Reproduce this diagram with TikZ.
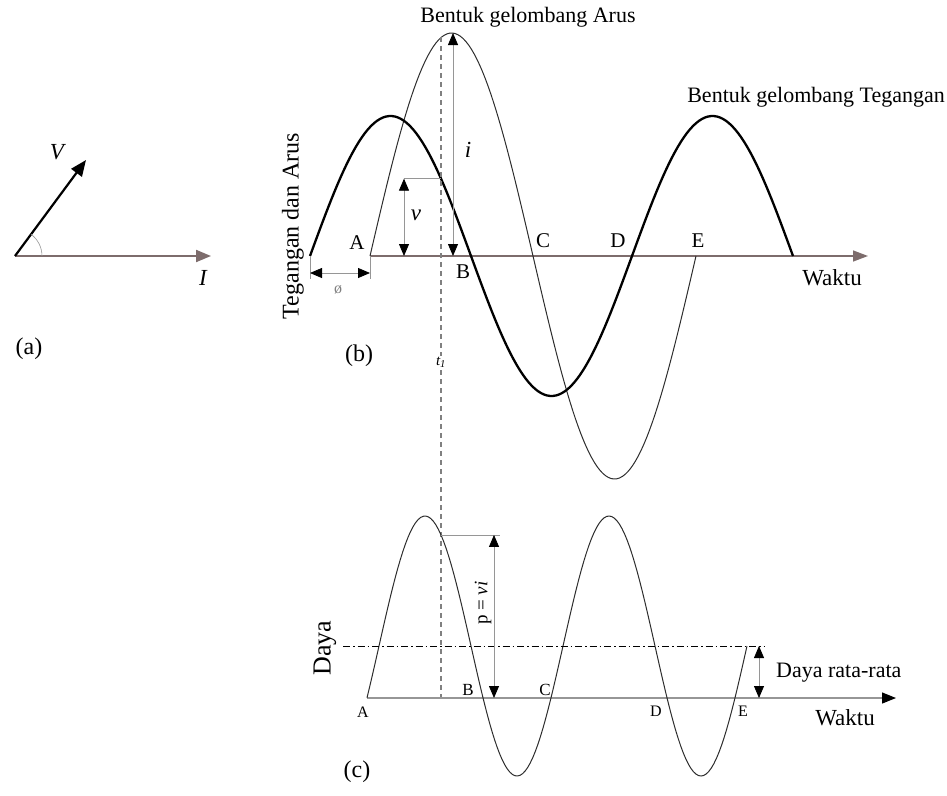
\documentclass[tikz,border=0pt]{standalone}
\usepackage{fontspec}
\setmainfont{Liberation Serif}
\usetikzlibrary{arrows.meta}
\definecolor{axcol}{RGB}{125,108,108}
\definecolor{thincol}{RGB}{150,150,150}
\definecolor{curvecol}{RGB}{45,45,45}
\begin{document}
\begin{tikzpicture}[x=1pt,y=-1pt,
  lbl/.style={font=\fontsize{22}{26}\selectfont, inner sep=0pt},
  mid/.style={font=\fontsize{21}{24}\selectfont, inner sep=0pt},
  sml/.style={font=\fontsize{16}{18}\selectfont, inner sep=0pt},
  dimarrow/.style={draw=thincol, line width=0.8pt, {Triangle[length=12pt,width=10pt,color=black]}-{Triangle[length=12pt,width=10pt,color=black]}},
  thinline/.style={draw=thincol, line width=0.8pt},
  volt/.style={draw=black, line width=2.3pt},
  curr/.style={draw=curvecol, line width=1pt},
  tline/.style={draw=gray, line width=1.1pt, dash pattern=on 5pt off 4pt},
  avgline/.style={draw=black, line width=0.8pt, dash pattern=on 7pt off 3pt on 1.5pt off 3pt}]
\useasboundingbox (0,0) rectangle (947,795);

% ---------- (a) phasor ----------
\coordinate (O) at (15,256);
\coordinate (Vt) at (86,160);
\coordinate (It) at (211,256);
\draw[draw=axcol, line width=2pt, -{Triangle[length=15pt,width=12pt,color=axcol]}] (O) -- (It);
\draw[line width=2.2pt, -{Triangle[length=16pt,width=13pt]}] (O) -- (Vt);
\draw[thincol, line width=0.6pt] (42,256) arc[start angle=0, end angle=-53.5, radius=27];
\node[lbl, font=\fontsize{23}{26}\selectfont\itshape] (Vl) at (57,152) {V};
\node[lbl, font=\fontsize{23}{26}\selectfont\itshape] (Il) at (203,278) {I};
\node[lbl, font=\fontsize{24}{28}\selectfont] (la) at (29,349) {(a)};

% ---------- (b) voltage and current ----------
\coordinate (bA) at (370,256);
\coordinate (bEnd) at (868,256);
\draw[draw=axcol, line width=1.4pt, -{Triangle[length=15pt,width=11pt,color=axcol]}] (bA) -- (bEnd);

% current wave
\draw[curr] plot[domain=370:696, samples=120] (\x, {256-223*sin((\x-370)/163*180)});
% voltage wave
\draw[volt] plot[domain=310:793, samples=160] (\x, {256-140*sin((\x-310)/161*180)});

% t1 dashed line
\coordinate (t1top) at (441,37);
\coordinate (t1bot) at (441,698);
\draw[tline] (t1top) -- (t1bot);
\node[sml, font=\fontsize{15}{17}\selectfont\itshape, fill=white, inner sep=1pt] (t1) at (441,362) {t\textsubscript{1}};

% i arrow
\coordinate (itop) at (453,33);
\coordinate (ibot) at (453,256);
\draw[dimarrow] (itop) -- (ibot);
\node[lbl, font=\fontsize{23}{26}\selectfont\itshape] (il) at (468,150) {i};

% v arrow
\pgfmathsetmacro{\vy}{256-140*sin((441-310)/161*180)}
\coordinate (vt) at (404,\vy);
\coordinate (vb) at (404,256);
\coordinate (vc) at (441,\vy);
\draw[thinline] (vt) -- (vc);
\draw[dimarrow] (vt) -- (vb);
\node[lbl, font=\fontsize{23}{26}\selectfont\itshape] (vl) at (416,215) {v};

% phase angle
\coordinate (p1) at (310,256);
\coordinate (p2) at (370,256);
\coordinate (p1b) at (310,279);
\coordinate (p2b) at (370,279);
\coordinate (p1m) at (310,273);
\coordinate (p2m) at (370,273);
\draw[thinline] (p1) -- (p1b);
\draw[thinline] (p2) -- (p2b);
\draw[dimarrow] (p1m) -- (p2m);
\node[sml, text=gray] (phi) at (338,290) {ø};

% labels
\node[mid] (lA) at (357,243) {A};
\node[mid] (lB) at (463,272) {B};
\node[mid] (lC) at (543,241) {C};
\node[mid] (lD) at (618,241) {D};
\node[mid] (lE) at (698,241) {E};
\node[lbl, font=\fontsize{23}{26}\selectfont] (w1) at (832,278) {Waktu};
\node[lbl] (ga) at (528,17) {Bentuk gelombang Arus};
\node[lbl, anchor=east] (gt) at (945,97) {Bentuk gelombang Tegangan};
\node[lbl, font=\fontsize{24}{28}\selectfont, rotate=90] (tda) at (293,226) {Tegangan dan Arus};
\node[lbl, font=\fontsize{24}{28}\selectfont] (lb) at (359,356) {(b)};

% ---------- (c) power ----------
\coordinate (cA) at (367,698);
\coordinate (cEnd) at (896,698);
\draw[draw=thincol, line width=1.2pt, -{Triangle[length=14pt,width=11pt,color=black]}] (cA) -- (cEnd);
\draw[curr] plot[domain=367:747, samples=150] (\x, {646-130*sin((\x-379)/184*360)});

\coordinate (avgL) at (343,646);
\coordinate (avgR) at (765,646);
\draw[avgline] (avgL) -- (avgR);

% p = vi
\pgfmathsetmacro{\py}{646-130*sin((441-379)/184*360)}
\coordinate (pt) at (494,\py);
\coordinate (pc) at (441,\py);
\coordinate (pr) at (500,\py);
\coordinate (pb) at (494,698);
\draw[thinline] (pc) -- (pr);
\draw[dimarrow] (pt) -- (pb);
\node[mid, font=\fontsize{19}{22}\selectfont, rotate=90] (pvi) at (483,603) {p = \textit{vi}};

% average power arrow
\coordinate (at) at (759,646);
\coordinate (ab) at (759,698);
\draw[dimarrow] (at) -- (ab);
\node[lbl, anchor=west] (dr) at (776,673) {Daya rata-rata};
\node[lbl, font=\fontsize{23}{26}\selectfont] (w2) at (845,718) {Waktu};
\node[lbl, font=\fontsize{26}{30}\selectfont, rotate=90] (daya) at (325,648) {Daya};
\node[lbl, font=\fontsize{24}{28}\selectfont] (lc) at (357,772) {(c)};

\node[sml] (cLA) at (363,712) {A};
\node[sml, font=\fontsize{17}{19}\selectfont] (cLB) at (468,690) {B};
\node[sml, font=\fontsize{17}{19}\selectfont] (cLC) at (545,690) {C};
\node[sml] (cLD) at (656,711) {D};
\node[sml] (cLE) at (743,711) {E};
\end{tikzpicture}
\end{document}
